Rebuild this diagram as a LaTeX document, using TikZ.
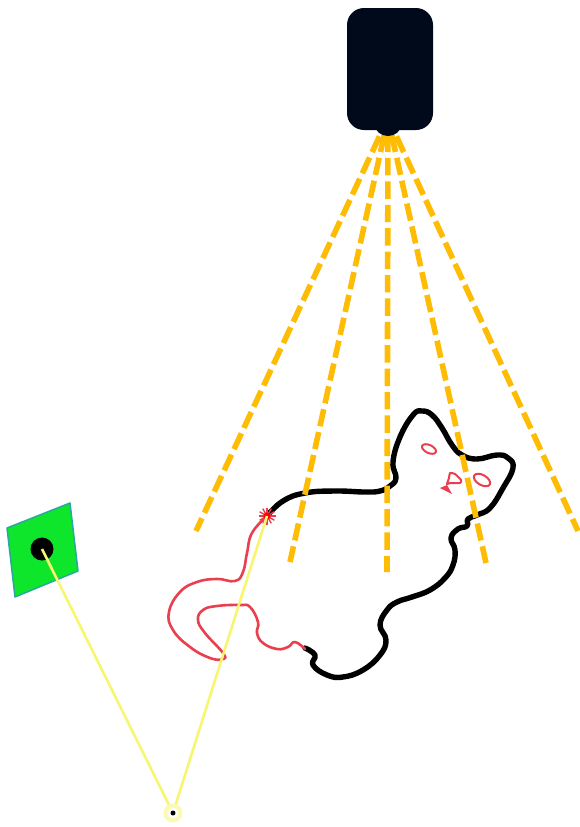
\documentclass[tikz,border=0pt]{standalone}
\definecolor{camdark}{HTML}{000A1A}
\definecolor{beam}{HTML}{FFBC05}
\definecolor{panel}{HTML}{0DE62B}
\definecolor{paneledge}{HTML}{2AA8A0}
\definecolor{ray}{HTML}{F8F570}
\definecolor{trace}{HTML}{E8404E}
\definecolor{halo}{HTML}{FBFAB0}
\tikzset{
  beamline/.style={beam,line width=5.6pt},
  rayline/.style={ray,line width=2.6pt},
  bodyline/.style={black,line width=5.4pt,line cap=round,line join=round},
  traceline/.style={trace,line width=2.6pt,line cap=round,line join=round},
  featureline/.style={trace,line width=2pt,line join=round}
}
\begin{document}
\begin{tikzpicture}[x=1pt,y=-1pt]
\useasboundingbox (0,0) rectangle (579,827);
\fill[white] (0,0) rectangle (579,827);

\coordinate (ball) at (42,549);
\coordinate (mirror) at (173,813);
\coordinate (tip) at (267,516);
\coordinate (lens) at (388,118);

% target panel
\filldraw[fill=panel,draw=paneledge,line width=1.5pt,line join=round]
  (7,528) -- (70,503) -- (78,571) -- (15,597) -- cycle;
\fill[black] (ball) circle (11.5);

% body outline
\draw[bodyline] plot[smooth,tension=0.75] coordinates {
  (267,516) (283,501) (305,493) (335,491) (365,492) (380,491) (390,486) (396,478)
  (393,462) (400,437) (413,415) (422,411) (432,415) (442,428) (452,445)
  (462,455) (477,459) (497,455) (508,458) (513,468) (503,488) (490,508)
  (477,515) (468,519) (467,526) (458,529) (451,538) (455,550) (453,565)
  (445,578) (430,590) (412,597) (397,602) (387,610) (380,625) (386,640)
  (380,655) (363,670) (343,677) (327,675) (313,665) (315,655) (305,648)};

% tail outline
\draw[traceline] plot[smooth,tension=0.75] coordinates {
  (305,649) (295,642) (288,647) (277,649) (263,643) (257,633) (258,622)
  (250,607) (240,605) (217,606) (203,610) (198,620) (205,633) (223,653)
  (223,659) (210,658) (190,647) (173,630) (169,612) (180,592) (197,582)
  (217,579) (235,581) (243,572) (247,553) (252,533) (267,516)};

% marker at the tip
\foreach \a in {0,30,...,150}
  \draw[trace,line width=1.4pt] (tip) ++(\a:8.5) -- ++(\a+180:17);
\fill[red] (tip) circle (3.5);

% face details
\draw[featureline] (429,449) ellipse [x radius=7.5,y radius=4,rotate=-25];
\draw[featureline] (482,480) ellipse [x radius=9,y radius=5,rotate=-30];
\draw[featureline] plot[smooth cycle,tension=0.4] coordinates {
  (450,473) (455,474) (461,480) (460,483) (450,483) (447,484) (449,478)};
\fill[trace] (440,488) -- (447,485) -- (452,494) -- cycle;

% rays meeting at the reflector
\draw[rayline] (ball) -- (mirror) -- (tip);
\fill[halo] (mirror) circle (9.5);
\fill[white] (mirror) circle (5.5);
\fill[black] (mirror) circle (2.5);

% projector beams
\foreach \e/\ph in {(196,531)/3.2,(290,562)/6,(387,572)/6.8,(486,563)/6,(578,531)/3.2}
  \draw[beamline,dash pattern=on 17.4pt off 6pt,dash phase=\ph pt] (lens) -- \e;

% projector housing
\fill[camdark] (347,25) arc[start angle=180,end angle=270,radius=17] -- (416,8)
  arc[start angle=270,end angle=360,radius=17] -- (433,113)
  arc[start angle=0,end angle=90,radius=17] -- (364,130)
  arc[start angle=90,end angle=180,radius=17] -- cycle;
\fill[camdark] (388,125) ellipse [x radius=13,y radius=11];
\end{tikzpicture}
\end{document}
